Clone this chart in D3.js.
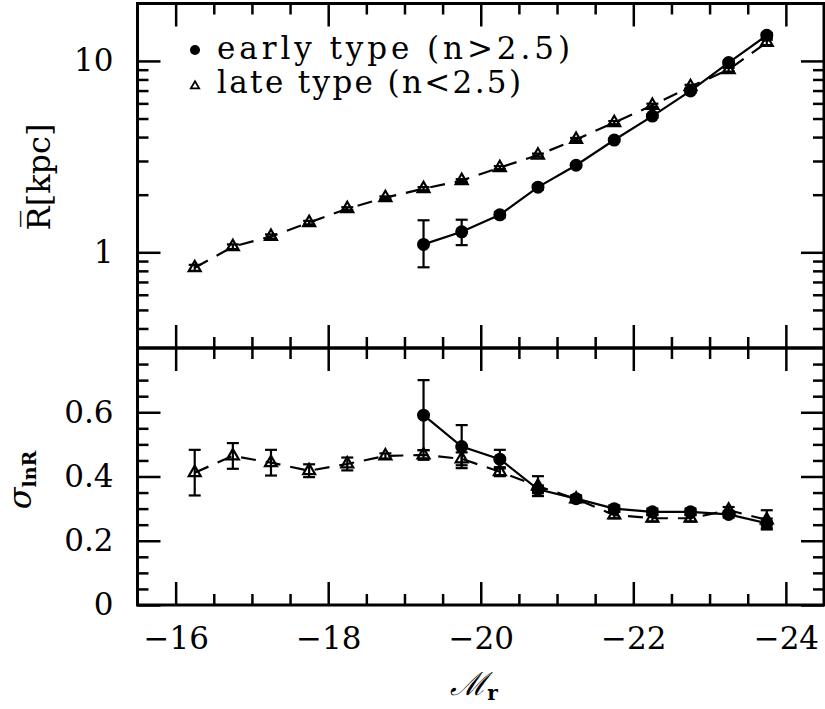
<!DOCTYPE html>
<html>
<head>
<meta charset="utf-8">
<script src="https://cdn.jsdelivr.net/npm/d3@7"></script>
<style>
  body { margin: 0; background: #fff; }
  text { font-family: "DejaVu Serif", serif; fill: #000; }
</style>
</head>
<body>
<div id="graf"></div>
<script>
// Datos
magLate = [-16.25, -16.75, -17.25, -17.75, -18.25, -18.75, -19.25, -19.75,
           -20.25, -20.75, -21.25, -21.75, -22.25, -22.75, -23.25, -23.75]
magEarly = [-19.25, -19.75, -20.25, -20.75, -21.25, -21.75, -22.25, -22.75, -23.25, -23.75]

// R medio [kpc]
rLate   = [0.83, 1.07, 1.21, 1.43, 1.69, 1.93, 2.15, 2.37, 2.77, 3.22, 3.89, 4.76, 5.86, 7.34, 9.0, 12.5]
rLateLo = [0.80, 1.04, 1.18, 1.40, 1.66, 1.90, 2.11, 2.33, 2.72, 3.16, 3.82, 4.67, 5.74, 7.18, 8.8, 12.1]
rLateHi = [0.86, 1.10, 1.24, 1.46, 1.72, 1.96, 2.19, 2.41, 2.82, 3.28, 3.96, 4.85, 5.98, 7.50, 9.2, 12.9]
rEarly   = [1.10, 1.28, 1.57, 2.19, 2.85, 3.86, 5.15, 6.97, 9.8, 13.6]
rEarlyLo = [0.835, 1.09, 1.52, 2.13, 2.79, 3.79, 5.05, 6.82, 9.6, 13.2]
rEarlyHi = [1.47, 1.48, 1.62, 2.25, 2.91, 3.93, 5.25, 7.12, 10.0, 14.0]

// sigma lnR
sLate    = [0.412, 0.464, 0.443, 0.418, 0.439, 0.464, 0.467, 0.455, 0.415, 0.37, 0.33, 0.28, 0.27, 0.27, 0.295, 0.265]
sLateErr = [0.071, 0.040, 0.040, 0.020, 0.020, 0.008, 0.015, 0.020, 0.014, 0.031, 0.01, 0.01, 0.01, 0.01, 0.01, 0.03]
sEarly    = [0.591, 0.493, 0.454, 0.36, 0.331, 0.30, 0.29, 0.29, 0.282, 0.254]
sEarlyErr = [0.109, 0.067, 0.029, 0.012, 0.01, 0.01, 0.01, 0.01, 0.01, 0.015]

xMajor = [-16, -18, -20, -22, -24]
xMinor = [-16.5, -17, -17.5, -18.5, -19, -19.5, -20.5, -21, -21.5, -22.5, -23, -23.5]
sMajor = [0, 0.2, 0.4, 0.6]
sMinor = [0.05, 0.1, 0.15, 0.25, 0.3, 0.35, 0.45, 0.5, 0.55, 0.65, 0.7, 0.75]
legendLabels = ['early type (n>2.5)', 'late type (n<2.5)']

// Configuracion
ancho_total = 825
alto_total = 709
bordes = { left: 137.5, right: 824, top: 3.5, mid: 348, bottom: 605 }

svg = d3.select('#graf').append('svg')
        .attr('width', ancho_total)
        .attr('height', alto_total)

x = d3.scaleLinear().domain([-15.5, -24.5]).range([bordes.left, bordes.right])
yR = d3.scaleLog().domain([Math.pow(10, -0.5), Math.pow(10, 1.3)]).range([bordes.mid, bordes.top])
yS = d3.scaleLinear().domain([0, 0.8]).range([bordes.bottom, bordes.mid])

MAJ = 23
MIN = 11

function ejes(top, bottom, yScale, yMaj, yMin, fmt, xLabels) {
        function put(axis, tx, ty, vals, size, format, pad) {
                let a = axis.tickValues(vals).tickSizeInner(-size).tickSizeOuter(0)
                        .tickPadding(pad).tickFormat(format)
                let gg = svg.append('g').attr('transform', `translate(${tx},${ty})`).call(a)
                gg.select('.domain').remove()
                gg.selectAll('line').attr('stroke', '#000').attr('stroke-width', 2.5)
                gg.selectAll('text').style('font-size', '31px').style('font-family', '"DejaVu Serif", serif')
                return gg
        }
        // arriba y abajo
        put(d3.axisTop(x), 0, top, xMajor, MAJ, () => '', 0)
        put(d3.axisTop(x), 0, top, xMinor, MIN, () => '', 0)
        put(d3.axisBottom(x), 0, bottom, xMajor, MAJ, xLabels ? (d => d3.format('d')(d)) : () => '', 22)
        put(d3.axisBottom(x), 0, bottom, xMinor, MIN, () => '', 0)
        // izquierda y derecha
        put(d3.axisLeft(yScale), bordes.left, 0, yMaj, MAJ, fmt, 24)
        put(d3.axisLeft(yScale), bordes.left, 0, yMin, MIN, () => '', 0)
        put(d3.axisRight(yScale), bordes.right, 0, yMaj, MAJ, () => '', 0)
        put(d3.axisRight(yScale), bordes.right, 0, yMin, MIN, () => '', 0)
        svg.append('rect')
                .attr('x', bordes.left).attr('y', top)
                .attr('width', bordes.right - bordes.left).attr('height', bottom - top)
                .attr('fill', 'none').attr('stroke', '#000').attr('stroke-width', 3)
}

rTicks = yR.ticks()
rMajor = rTicks.filter(d => Math.abs(Math.log10(d) - Math.round(Math.log10(d))) < 1e-6)
rMinor = rTicks.filter(d => !rMajor.includes(d))

ejes(bordes.top, bordes.mid, yR, rMajor, rMinor, d => d3.format('d')(d), false)
ejes(bordes.mid, bordes.bottom, yS, sMajor, sMinor, d => d === 0 ? '0' : d3.format('.1f')(d), true)

tri = d3.symbol().type(d3.symbolTriangle).size(62)

function serie(mags, vals, lo, hi, yScale, tipo) {
        let g = svg.append('g')
        let pts = mags.map((m, i) => ({ m: m, v: vals[i], lo: lo[i], hi: hi[i] }))
        let linea = d3.line().x(d => x(d.m)).y(d => yScale(d.v))
        g.append('path').datum(pts)
                .attr('d', linea)
                .attr('fill', 'none').attr('stroke', '#000').attr('stroke-width', 2.2)
                .attr('stroke-dasharray', tipo === 'late' ? '15,10' : null)
        // barras de error
        pts.forEach(d => {
                let cx = x(d.m)
                g.append('line').attr('x1', cx).attr('x2', cx)
                        .attr('y1', yScale(d.lo)).attr('y2', yScale(d.hi))
                        .attr('stroke', '#000').attr('stroke-width', 2.2)
                ;[d.lo, d.hi].forEach(e => {
                        g.append('line').attr('x1', cx - 6).attr('x2', cx + 6)
                                .attr('y1', yScale(e)).attr('y2', yScale(e))
                                .attr('stroke', '#000').attr('stroke-width', 2.2)
                })
        })
        if (tipo === 'late') {
                g.selectAll('.tri').data(pts).join('path')
                        .attr('d', tri)
                        .attr('transform', d => `translate(${x(d.m)},${yScale(d.v)})`)
                        .attr('fill', 'none').attr('stroke', '#000').attr('stroke-width', 2.2)
        } else {
                g.selectAll('.dot').data(pts).join('circle')
                        .attr('cx', d => x(d.m)).attr('cy', d => yScale(d.v))
                        .attr('r', 6.5).attr('fill', '#000')
        }
}

serie(magLate, rLate, rLateLo, rLateHi, yR, 'late')
serie(magEarly, rEarly, rEarlyLo, rEarlyHi, yR, 'early')
serie(magLate, sLate, sLate.map((v, i) => v - sLateErr[i]), sLate.map((v, i) => v + sLateErr[i]), yS, 'late')
serie(magEarly, sEarly, sEarly.map((v, i) => v - sEarlyErr[i]), sEarly.map((v, i) => v + sEarlyErr[i]), yS, 'early')

// Leyenda
svg.append('circle').attr('cx', 195).attr('cy', 50).attr('r', 5).attr('fill', '#000')
svg.append('path').attr('d', d3.symbol().type(d3.symbolTriangle).size(30))
        .attr('transform', 'translate(195,86)')
        .attr('fill', 'none').attr('stroke', '#000').attr('stroke-width', 1.8)
svg.append('text').attr('x', 217).attr('y', 59)
        .attr('textLength', 353).attr('lengthAdjust', 'spacing')
        .style('font-size', '31px').text(legendLabels[0])
svg.append('text').attr('x', 217).attr('y', 93)
        .attr('textLength', 304).attr('lengthAdjust', 'spacing')
        .style('font-size', '31px').text(legendLabels[1])

// Titulos de ejes
svg.append('text')
        .attr('transform', 'translate(50,177) rotate(-90)')
        .attr('text-anchor', 'middle')
        .style('font-size', '32px')
        .text('R\u0305[kpc]')

sig = svg.append('text')
        .attr('transform', 'translate(31,480) rotate(-90)')
        .attr('text-anchor', 'middle')
sig.append('tspan').style('font-size', '32px').style('font-style', 'italic').text('σ')
sig.append('tspan').attr('dy', 5).style('font-size', '19px').style('font-weight', 'bold').text('lnR')

xt = svg.append('text')
        .attr('x', 474).attr('y', 695)
        .attr('text-anchor', 'middle')
xt.append('tspan').style('font-size', '32px').style('font-style', 'italic').text('ℳ')
xt.append('tspan').attr('dy', 5).style('font-size', '20px').style('font-weight', 'bold').text('r')
</script>
</body>
</html>
